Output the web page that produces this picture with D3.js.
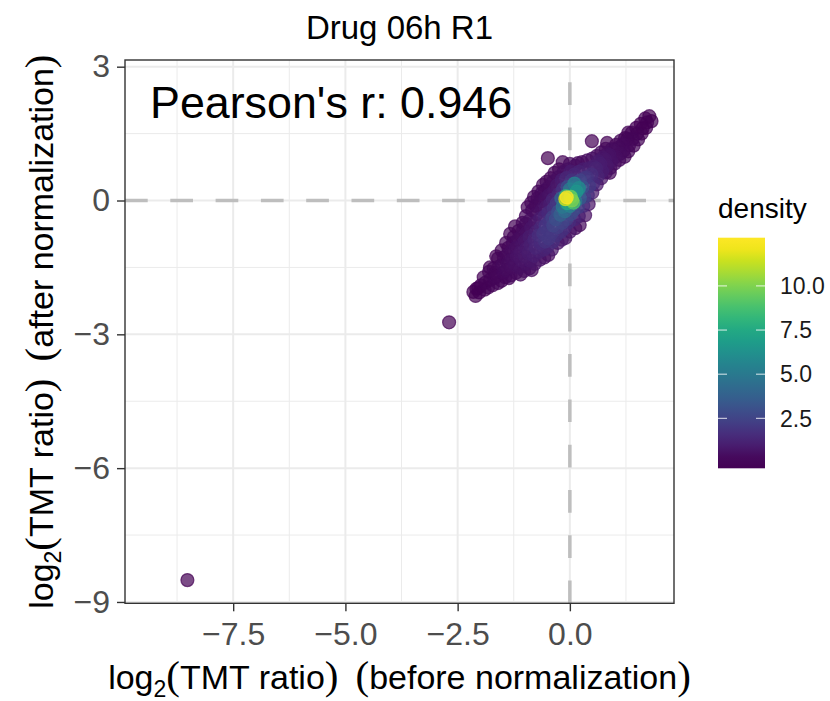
<!DOCTYPE html>
<html>
<head>
<meta charset="utf-8">
<script src="https://cdn.jsdelivr.net/npm/d3@7"></script>
<style>
body { margin: 0; background: #fff; }
text { font-family: "Liberation Sans", Arial, Helvetica, sans-serif; }
.paren { font-family: "Liberation Serif", "DejaVu Serif", serif; }
</style>
</head>
<body>
<svg id="chart" width="830" height="701"></svg>
<script>
// log2 ratios, one line per slice of the cloud
var beforeNorm = [
  -2.15, -2.1, -2.08,
  -2.02, -1.98, -2.04,
  -1.9, -1.88, -1.92,
  -1.82, -1.78, -1.8, -1.78,
  -1.72, -1.68, -1.7, -1.66,
  -1.6, -1.62, -1.58, -1.6, -1.64,
  -1.52, -1.48, -1.5, -1.47, -1.44, -1.52,
  -1.42, -1.38, -1.4, -1.37, -1.36, -1.42,
  -1.32, -1.3, -1.28, -1.3, -1.27, -1.25, -1.33,
  -1.2, -1.22, -1.18, -1.2, -1.16, -1.14, -1.22,
  -1.1, -1.12, -1.08, -1.1, -1.06, -1.08, -1.04, -1.05,
  -1.02, -0.98, -1.0, -0.97, -1.0, -0.96, -0.98, -0.98, -0.94,
  -0.9, -0.88, -0.92, -0.87, -0.9, -0.86, -0.89, -0.84, -0.86, -0.8,
  -0.85, -0.78, -0.8, -0.76, -0.79, -0.75, -0.78, -0.74, -0.76, -0.72, -0.7,
  -0.67, -0.68, -0.65, -0.69, -0.64, -0.66, -0.62, -0.65, -0.63, -0.6,
  -0.57, -0.58, -0.55, -0.59, -0.54, -0.56, -0.53, -0.55, -0.56, -0.52,
  -0.48, -0.5, -0.47, -0.49, -0.45, -0.48, -0.44, -0.46, -0.47, -0.43, -0.49,
  -0.4, -0.38, -0.41, -0.37, -0.39, -0.36, -0.38, -0.35, -0.38, -0.34,
  -0.27, -0.3, -0.28, -0.31, -0.26, -0.29, -0.25, -0.28, -0.26, -0.24,
  -0.18, -0.2, -0.17, -0.21, -0.16, -0.19, -0.15, -0.18, -0.14, -0.16,
  -0.1, -0.12, -0.08, -0.11, -0.06, -0.09, -0.05, -0.08, -0.04,
  0.0, -0.02, 0.02, 0.0, 0.03, 0.0, 0.04, 0.02, 0.0,
  -0.07, -0.1, 0.05, 0.08, 0.02, 0.15, 0.2, 0.1,
  0.12, 0.1, 0.08, 0.12, 0.1, 0.13, 0.1, 0.12,
  0.22, 0.2, 0.18, 0.22, 0.2, 0.23, 0.2, 0.18,
  0.34, 0.3, 0.32, 0.28, 0.33, 0.3, 0.27,
  0.42, 0.4, 0.43, 0.38, 0.42, 0.39,
  0.5, 0.52, 0.48, 0.53, 0.5, 0.49,
  0.6, 0.62, 0.58, 0.63, 0.6,
  0.7, 0.72, 0.68, 0.73, 0.7,
  0.8, 0.82, 0.78, 0.83, 0.8, 0.83,
  0.9, 0.92, 0.88, 0.93, 0.89,
  1.0, 1.02, 0.98, 1.03,
  1.1, 1.12, 1.08, 1.13,
  1.22, 1.2, 1.18, 1.23,
  1.3, 1.32, 1.28, 1.3,
  1.42, 1.4, 1.38,
  1.52, 1.5, 1.48,
  1.6, 1.62, 1.58,
  1.7, 1.72, 1.68,
  1.77, 1.82,
  -2.69, -8.52
];
var afterNorm = [
  -2.05, -2.14, -1.98,
  -2.06, -1.9, -1.96,
  -2.0, -1.84, -1.72,
  -1.95, -1.78, -1.6, -1.5,
  -1.9, -1.74, -1.52, -1.62,
  -1.85, -1.68, -1.48, -1.3, -1.25,
  -1.8, -1.62, -1.45, -1.28, -1.72, -1.12,
  -1.56, -1.4, -1.22, -1.06, -1.74, -0.95,
  -1.68, -1.5, -1.32, -1.14, -0.95, -0.82, -0.75,
  -1.62, -1.44, -1.25, -1.06, -0.88, -0.68, -0.58,
  -1.66, -1.5, -1.34, -1.16, -0.98, -0.8, -0.65, -0.5,
  -1.58, -1.42, -1.25, -1.08, -0.9, -0.72, -0.52, -0.35, -0.15,
  -1.52, -1.35, -1.18, -1.0, -0.82, -0.62, -0.44, -0.22, -0.05, 0.08,
  -1.56, -1.42, -1.24, -1.06, -0.88, -0.7, -0.5, -0.3, -0.12, 0.05, 0.2,
  -1.33, -1.15, -0.96, -0.78, -0.6, -0.4, -0.2, -0.02, 0.16, 0.35,
  -1.28, -1.1, -0.92, -0.74, -0.56, -0.36, -0.15, 0.04, 0.22, 0.42,
  -1.22, -1.04, -0.85, -0.66, -0.48, -0.28, -0.08, 0.12, 0.3, 0.5, 0.95,
  -1.1, -0.92, -0.74, -0.56, -0.38, -0.18, 0.02, 0.22, 0.42, 0.62,
  -0.95, -0.78, -0.6, -0.42, -0.25, -0.06, 0.14, 0.34, 0.52, 0.7,
  -0.88, -0.7, -0.5, -0.32, -0.14, 0.05, 0.26, 0.46, 0.64, 0.86,
  -0.84, -0.62, -0.42, -0.24, -0.06, 0.1, 0.3, 0.5, 0.7,
  -0.7, -0.48, -0.3, -0.12, 0.08, 0.25, 0.45, 0.65, 0.82,
  0.07, 0.03, 0.0, -0.05, 0.08, 0.2, 0.28, 0.38,
  -0.62, -0.42, -0.22, -0.02, 0.18, 0.38, 0.58, 0.78,
  -0.55, -0.35, -0.15, 0.05, 0.26, 0.45, 0.64, 0.84,
  -0.33, -0.12, 0.08, 0.3, 0.5, 0.7, 0.86,
  -0.08, 0.12, 0.32, 0.52, 0.72, 0.9,
  0.18, 0.38, 0.58, 0.76, 0.94, 1.33,
  0.36, 0.54, 0.72, 0.88, 1.0,
  0.5, 0.66, 0.82, 0.96, 1.08,
  0.63, 0.78, 0.92, 1.05, 1.16, 1.29,
  0.73, 0.88, 1.02, 1.15, 0.62,
  0.83, 0.98, 1.12, 1.25,
  0.91, 1.05, 1.18, 1.34,
  0.98, 1.12, 1.26, 1.4,
  1.1, 1.24, 1.38, 1.52,
  1.23, 1.38, 1.52,
  1.37, 1.5, 1.63,
  1.5, 1.62, 1.72,
  1.63, 1.75, 1.84,
  1.89, 1.78,
  -2.73, -8.51
];
var density = [
  0.03, 0.03, 0.04,
  0.06, 0.07, 0.06,
  0.08, 0.1, 0.08,
  0.1, 0.14, 0.1, 0.06,
  0.12, 0.18, 0.15, 0.18,
  0.15, 0.22, 0.2, 0.12, 0.08,
  0.18, 0.28, 0.3, 0.2, 0.2, 0.1,
  0.35, 0.38, 0.3, 0.18, 0.2, 0.1,
  0.25, 0.42, 0.48, 0.4, 0.25, 0.15, 0.1,
  0.3, 0.5, 0.6, 0.5, 0.35, 0.2, 0.12,
  0.25, 0.5, 0.65, 0.7, 0.6, 0.4, 0.3, 0.2,
  0.35, 0.6, 0.8, 0.85, 0.7, 0.5, 0.35, 0.25, 0.15,
  0.45, 0.75, 0.95, 1.1, 0.95, 0.7, 0.45, 0.3, 0.2, 0.15,
  0.3, 0.65, 1.0, 1.3, 1.3, 1.1, 0.7, 0.45, 0.3, 0.25, 0.15,
  0.55, 1.1, 1.5, 1.6, 1.4, 0.9, 0.55, 0.35, 0.25, 0.15,
  0.45, 1.2, 1.8, 2.0, 1.9, 1.3, 0.8, 0.5, 0.3, 0.2,
  0.4, 1.3, 2.0, 1.9, 1.9, 1.5, 1.0, 0.6, 0.35, 0.2, 0.03,
  0.8, 1.6, 2.0, 2.5, 2.4, 1.8, 1.2, 0.7, 0.4, 0.2,
  0.7, 1.7, 2.2, 3.0, 3.0, 2.0, 1.3, 0.8, 0.45, 0.2,
  0.8, 1.7, 2.5, 3.8, 5.0, 4.0, 1.8, 1.0, 0.45, 0.1,
  0.6, 1.5, 2.4, 4.5, 7.5, 8.0, 3.0, 1.4, 0.5,
  0.6, 1.6, 2.8, 5.5, 8.5, 5.0, 1.8, 0.9, 0.3,
  12.4, 11.6, 10.0, 9.0, 9.5, 6.5, 6.0, 5.5,
  0.4, 1.3, 2.8, 5.0, 5.0, 3.0, 1.3, 0.45,
  0.3, 1.0, 2.2, 3.6, 4.0, 2.5, 1.2, 0.3,
  0.5, 1.5, 2.4, 3.2, 2.0, 1.0, 0.3,
  0.6, 1.6, 2.1, 1.8, 1.1, 0.4,
  0.8, 1.5, 1.6, 1.1, 0.5, 0.05,
  0.7, 1.2, 1.2, 0.9, 0.4,
  0.6, 1.0, 1.0, 0.7, 0.3,
  0.5, 0.8, 0.75, 0.5, 0.2, 0.08,
  0.4, 0.6, 0.6, 0.35, 0.15,
  0.3, 0.45, 0.4, 0.2,
  0.25, 0.35, 0.3, 0.15,
  0.18, 0.28, 0.25, 0.12,
  0.15, 0.22, 0.18, 0.1,
  0.12, 0.16, 0.12,
  0.1, 0.12, 0.09,
  0.08, 0.09, 0.07,
  0.06, 0.06, 0.05,
  0.04, 0.04,
  0.002, 0.001
];

var xTicks = [-7.5, -5.0, -2.5, 0.0];
var xMinor = [-8.75, -6.25, -3.75, -1.25, 1.25];
var yTicks = [3, 0, -3, -6, -9];
var yMinor = [1.5, -1.5, -4.5, -7.5];
var legendTicks = [2.5, 5.0, 7.5, 10.0];
var refX = 0, refY = 0;
var pearson = "Pearson's r: 0.946";
var title = "Drug 06h R1";

var svg = d3.select("#chart");
var panel = { left: 125, right: 674, top: 60, bottom: 603.3 };

var xScale = d3.scaleLinear().domain([-9.91, 2.32]).range([panel.left, panel.right]);
var yScale = d3.scaleLinear().domain([-9.03, 3.15]).range([panel.bottom, panel.top]);

var densExtent = d3.extent(density);
var color = d3.scaleSequential(d3.interpolateViridis).domain(densExtent);

svg.append("rect")
  .attr("width", 830).attr("height", 701).attr("fill", "#fff");

// grid
var grid = svg.append("g");
grid.selectAll(".vminor").data(xMinor).enter().append("line")
  .attr("x1", function (d) { return xScale(d); })
  .attr("x2", function (d) { return xScale(d); })
  .attr("y1", panel.top).attr("y2", panel.bottom)
  .attr("stroke", "#ebebeb").attr("stroke-width", 1);
grid.selectAll(".hminor").data(yMinor).enter().append("line")
  .attr("y1", function (d) { return yScale(d); })
  .attr("y2", function (d) { return yScale(d); })
  .attr("x1", panel.left).attr("x2", panel.right)
  .attr("stroke", "#ebebeb").attr("stroke-width", 1);
grid.selectAll(".vmajor").data(xTicks).enter().append("line")
  .attr("x1", function (d) { return xScale(d); })
  .attr("x2", function (d) { return xScale(d); })
  .attr("y1", panel.top).attr("y2", panel.bottom)
  .attr("stroke", "#ebebeb").attr("stroke-width", 2);
grid.selectAll(".hmajor").data(yTicks).enter().append("line")
  .attr("y1", function (d) { return yScale(d); })
  .attr("y2", function (d) { return yScale(d); })
  .attr("x1", panel.left).attr("x2", panel.right)
  .attr("stroke", "#ebebeb").attr("stroke-width", 2);

// dashed zero lines (drawn bottom->top and left->right like ggplot)
svg.append("line")
  .attr("x1", xScale(refX)).attr("x2", xScale(refX))
  .attr("y1", panel.bottom).attr("y2", panel.top)
  .attr("stroke", "#bebebe").attr("stroke-width", 3.5)
  .attr("stroke-dasharray", "22.7,22.6");
svg.append("line")
  .attr("x1", panel.left).attr("x2", panel.right)
  .attr("y1", yScale(refY)).attr("y2", yScale(refY))
  .attr("stroke", "#bebebe").attr("stroke-width", 3.5)
  .attr("stroke-dasharray", "22.7,22.6");

// points, low density first
var order = d3.range(density.length).sort(function (a, b) { return density[a] - density[b]; });
svg.append("g").selectAll("circle")
  .data(order)
  .enter()
  .append("circle")
  .attr("cx", function (i) { return xScale(beforeNorm[i]); })
  .attr("cy", function (i) { return yScale(afterNorm[i]); })
  .attr("r", 6.5)
  .attr("fill", function (i) { return color(density[i]); })
  .attr("stroke", function (i) { return color(density[i]); })
  .attr("fill-opacity", 0.7)
  .attr("stroke-opacity", 0.7)
  .attr("stroke-width", 1.2);

// panel border
svg.append("rect")
  .attr("x", panel.left).attr("y", panel.top)
  .attr("width", panel.right - panel.left).attr("height", panel.bottom - panel.top)
  .attr("fill", "none").attr("stroke", "#333").attr("stroke-width", 1.4);

svg.append("text")
  .attr("x", 150).attr("y", 118)
  .style("font-size", "44.8px").attr("fill", "#000")
  .text(pearson);

// axes
var xAxis = d3.axisBottom(xScale).tickValues(xTicks).tickSize(8).tickPadding(11)
  .tickFormat(d3.format(".1f"));
var gx = svg.append("g").attr("transform", "translate(0," + panel.bottom + ")").call(xAxis);
var yAxis = d3.axisLeft(yScale).tickValues(yTicks).tickSize(8).tickPadding(7)
  .tickFormat(d3.format("d"));
var gy = svg.append("g").attr("transform", "translate(" + panel.left + ",0)").call(yAxis);
[gx, gy].forEach(function (g) {
  g.select(".domain").remove();
  g.selectAll(".tick line").attr("stroke", "#333").attr("stroke-width", 1.4);
  g.selectAll(".tick text").attr("fill", "#4d4d4d").style("font-size", "32px");
});

// axis titles with plotmath-like log2( )
function axisTitle(t, label) {
  t.attr("text-anchor", "middle").attr("fill", "#000").style("font-size", "34px");
  t.append("tspan").text("log");
  t.append("tspan").attr("dy", 8).style("font-size", "23px").text("2");
  t.append("tspan").attr("dy", -8).attr("class", "paren").style("font-size", "41px").text("(");
  t.append("tspan").text("TMT ratio");
  t.append("tspan").attr("class", "paren").style("font-size", "41px").text(")");
  t.append("tspan").text("\u2002");
  t.append("tspan").attr("class", "paren").style("font-size", "41px").text("(");
  t.append("tspan").text(label);
  t.append("tspan").attr("class", "paren").style("font-size", "41px").text(")");
}
axisTitle(svg.append("text")
  .attr("x", (panel.left + panel.right) / 2).attr("y", 689), "before normalization");
axisTitle(svg.append("text")
  .attr("transform", "translate(53," + (panel.top + panel.bottom) / 2 + ") rotate(-90)"), "after normalization");

svg.append("text")
  .attr("x", (panel.left + panel.right) / 2).attr("y", 39)
  .attr("text-anchor", "middle").style("font-size", "33px").attr("fill", "#000")
  .text(title);

// colour bar legend
var bar = { x: 718, w: 47, top: 237.7, bottom: 468.3 };
var yLeg = d3.scaleLinear().domain(densExtent).range([462.5, 243.5]);
var grad = svg.append("defs").append("linearGradient")
  .attr("id", "densGrad").attr("x1", 0).attr("x2", 0).attr("y1", 1).attr("y2", 0);
grad.selectAll("stop").data(d3.range(0, 1.0001, 0.05)).enter().append("stop")
  .attr("offset", function (t) { return t; })
  .attr("stop-color", function (t) {
    var v = yLeg.invert(bar.bottom - t * (bar.bottom - bar.top));
    return color(Math.max(densExtent[0], Math.min(densExtent[1], v)));
  });
svg.append("rect")
  .attr("x", bar.x).attr("y", bar.top)
  .attr("width", bar.w).attr("height", bar.bottom - bar.top)
  .attr("fill", "url(#densGrad)");

var lt = svg.append("g").selectAll("g").data(legendTicks).enter().append("g");
lt.append("line")
  .attr("x1", bar.x).attr("x2", bar.x + 9)
  .attr("y1", function (d) { return yLeg(d); }).attr("y2", function (d) { return yLeg(d); })
  .attr("stroke", "#fff").attr("stroke-opacity", 0.7).attr("stroke-width", 1.2);
lt.append("line")
  .attr("x1", bar.x + bar.w - 9).attr("x2", bar.x + bar.w)
  .attr("y1", function (d) { return yLeg(d); }).attr("y2", function (d) { return yLeg(d); })
  .attr("stroke", "#fff").attr("stroke-opacity", 0.7).attr("stroke-width", 1.2);
lt.append("text")
  .attr("x", 780).attr("y", function (d) { return yLeg(d); }).attr("dy", "0.36em")
  .style("font-size", "23px").attr("fill", "#1a1a1a")
  .text(function (d) { return d3.format(".1f")(d); });

svg.append("text")
  .attr("x", 718).attr("y", 218)
  .style("font-size", "28px").attr("fill", "#000")
  .text("density");
</script>
</body>
</html>
